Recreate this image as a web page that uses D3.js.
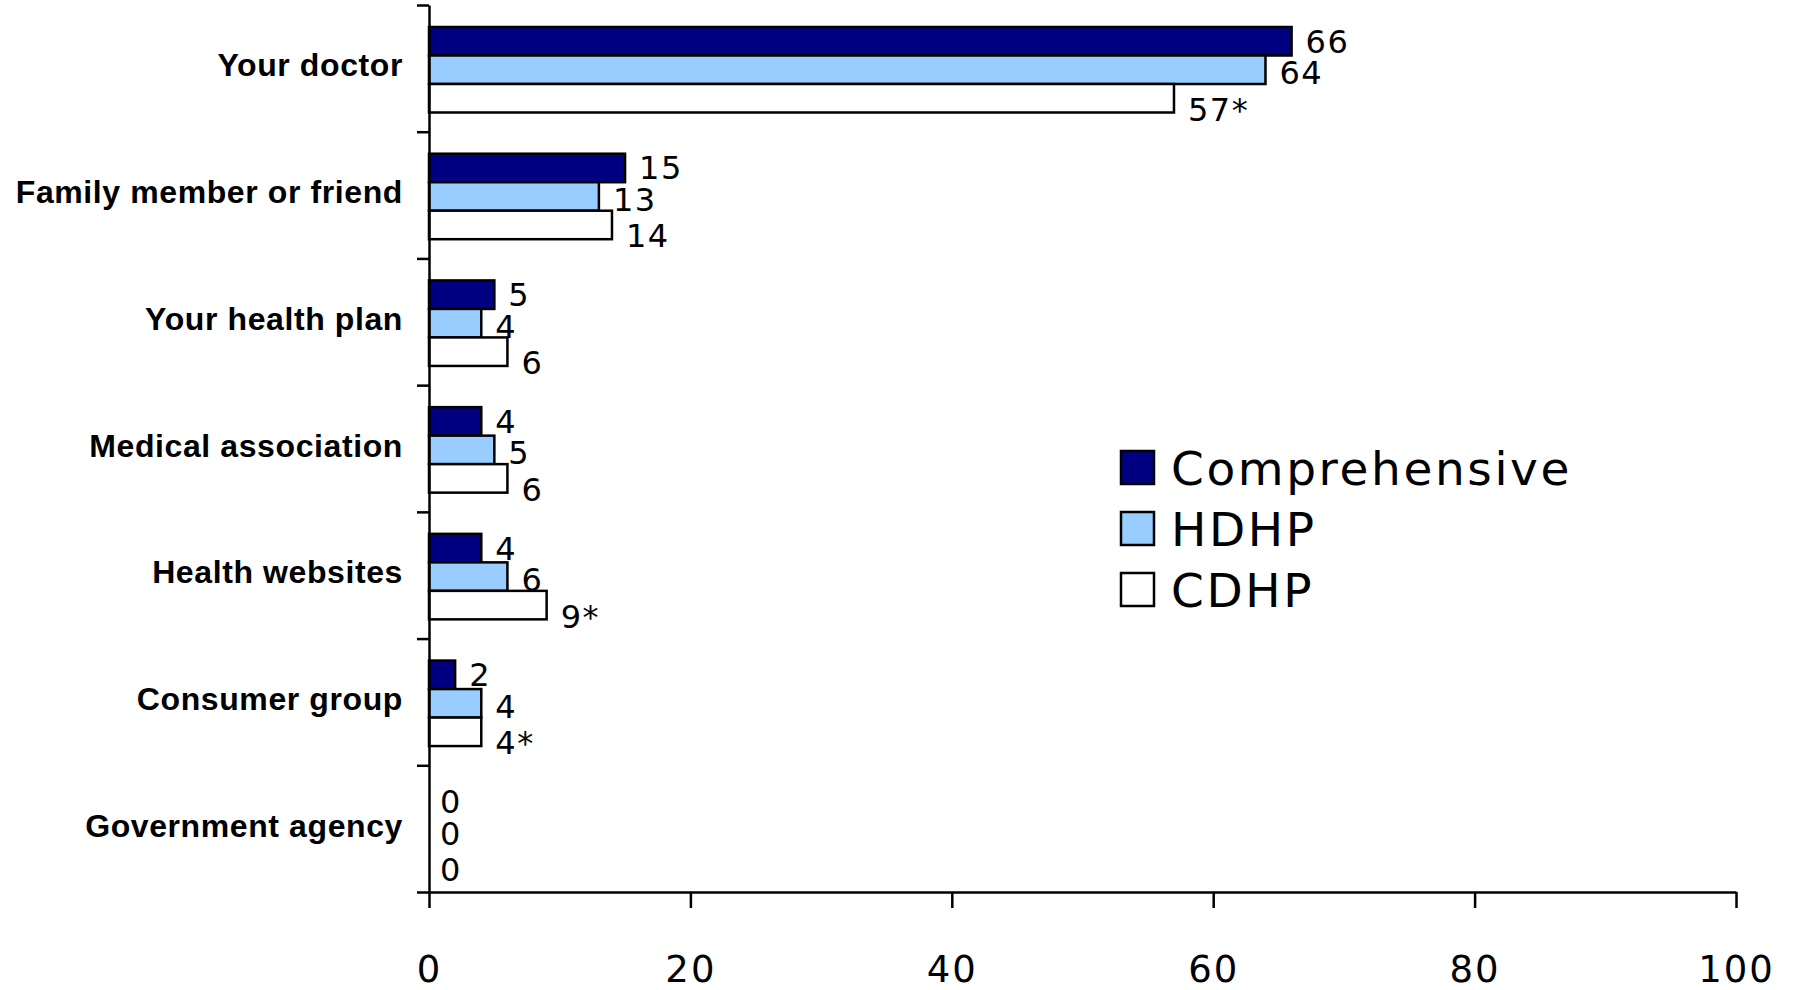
<!DOCTYPE html>
<html>
<head>
<meta charset="utf-8">
<script src="https://cdn.jsdelivr.net/npm/d3@7"></script>
<style>
  body { margin: 0; background: #fff; }
</style>
</head>
<body>
<script>
// data
var categories = ["Your doctor", "Family member or friend", "Your health plan",
    "Medical association", "Health websites", "Consumer group", "Government agency"];
var seriesNames = ["Comprehensive", "HDHP", "CDHP"];
var comprehensive = [66, 15, 5, 4, 4, 2, 0];
var hdhp = [64, 13, 4, 5, 6, 4, 0];
var cdhp = [57, 14, 6, 6, 9, 4, 0];
var cdhpLabels = ["57*", "14", "6", "6", "9*", "4*", "0"];
var xTicks = [0, 20, 40, 60, 80, 100];

var colors = ["#000080", "#99ccff", "#ffffff"];
var allValues = [comprehensive, hdhp, cdhp];

var rows = [];
categories.forEach(function (c, i) {
    seriesNames.forEach(function (s, j) {
        rows.push({
            cat: c, series: s, idx: j, value: allValues[j][i],
            label: j == 2 ? cdhpLabels[i] : String(allValues[j][i])
        });
    });
});

var width = 1795, height = 990;
// plot area edges (note: "top" is taken by window.top)
var plotLeft = 429, plotRight = 1736, plotTop = 5, plotBottom = 892;

var svg = d3.select("body").append("svg")
    .attr("width", width)
    .attr("height", height);

var x = d3.scaleLinear().domain([0, 100]).range([plotLeft, plotRight]);
var y = d3.scaleBand().domain(categories).range([plotTop, plotBottom]).padding(0);
var yInner = d3.scaleBand().domain(seriesNames).range([22, 22 + 85.5]).padding(0);
var yTicks = d3.scaleLinear().domain([0, categories.length]).range([plotTop, plotBottom]);

// bars
svg.append("g").attr("class", "bars")
    .selectAll("rect")
    .data(rows.filter(function (d) { return d.value > 0; }))
    .enter().append("rect")
    .attr("x", x(0))
    .attr("y", function (d) { return y(d.cat) + yInner(d.series); })
    .attr("width", function (d) { return x(d.value) - x(0); })
    .attr("height", yInner.bandwidth())
    .attr("fill", function (d) { return colors[d.idx]; })
    .attr("stroke", "#000")
    .attr("stroke-width", 2.5);

// value labels (excel puts them a bit lower for the later series)
var labelShift = [0, 3, 11];
svg.append("g").attr("class", "values")
    .selectAll("text")
    .data(rows)
    .enter().append("text")
    .attr("x", function (d) { return x(d.value) + (d.value > 0 ? 14 : 11); })
    .attr("y", function (d) { return y(d.cat) + yInner(d.series) + yInner.bandwidth() / 2 + labelShift[d.idx]; })
    .attr("dy", "0.36em")
    .style("font-family", "'DejaVu Sans', Verdana, sans-serif")
    .style("font-size", "32px")
    .style("letter-spacing", "1.5px")
    .style("fill", "#000")
    .text(function (d) { return d.label; });

// y axis with ticks at band edges
svg.append("g")
    .attr("transform", "translate(" + plotLeft + ",0)")
    .call(d3.axisLeft(yTicks).ticks(categories.length).tickSize(12).tickSizeOuter(0).tickFormat(""));

// x axis
var xAxis = svg.append("g")
    .attr("transform", "translate(0," + plotBottom + ")")
    .call(d3.axisBottom(x).tickValues(xTicks).tickSize(16).tickSizeOuter(0));

xAxis.selectAll("text")
    .attr("y", 90)
    .attr("dy", 0)
    .style("font-family", "'DejaVu Sans', Verdana, sans-serif")
    .style("font-size", "37px")
    .style("letter-spacing", "2px")
    .style("fill", "#000");

svg.selectAll(".domain, .tick line")
    .attr("stroke", "#000")
    .attr("stroke-width", 2.5);

// category labels
svg.append("g").attr("class", "cats")
    .selectAll("text")
    .data(categories)
    .enter().append("text")
    .attr("x", 403)
    .attr("y", function (d) { return y(d) + y.bandwidth() / 2 + 8; })
    .attr("text-anchor", "end")
    .style("font-family", "'Liberation Sans', Arial, sans-serif")
    .style("font-weight", "bold")
    .style("font-size", "32px")
    .style("letter-spacing", "0.6px")
    .style("fill", "#000")
    .text(function (d) { return d; });

// legend
var legend = svg.append("g").attr("transform", "translate(1121,451)")
    .selectAll("g")
    .data(seriesNames)
    .enter().append("g")
    .attr("transform", function (d, i) { return "translate(0," + i * 61 + ")"; });

legend.append("rect")
    .attr("width", 33)
    .attr("height", 33)
    .attr("fill", function (d, i) { return colors[i]; })
    .attr("stroke", "#000")
    .attr("stroke-width", 2.5);

legend.append("text")
    .attr("x", 50)
    .attr("y", 34)
    .style("font-family", "'DejaVu Sans', Verdana, sans-serif")
    .style("font-size", "47px")
    .style("letter-spacing", "2.6px")
    .style("fill", "#000")
    .text(function (d) { return d; });
</script>
</body>
</html>
